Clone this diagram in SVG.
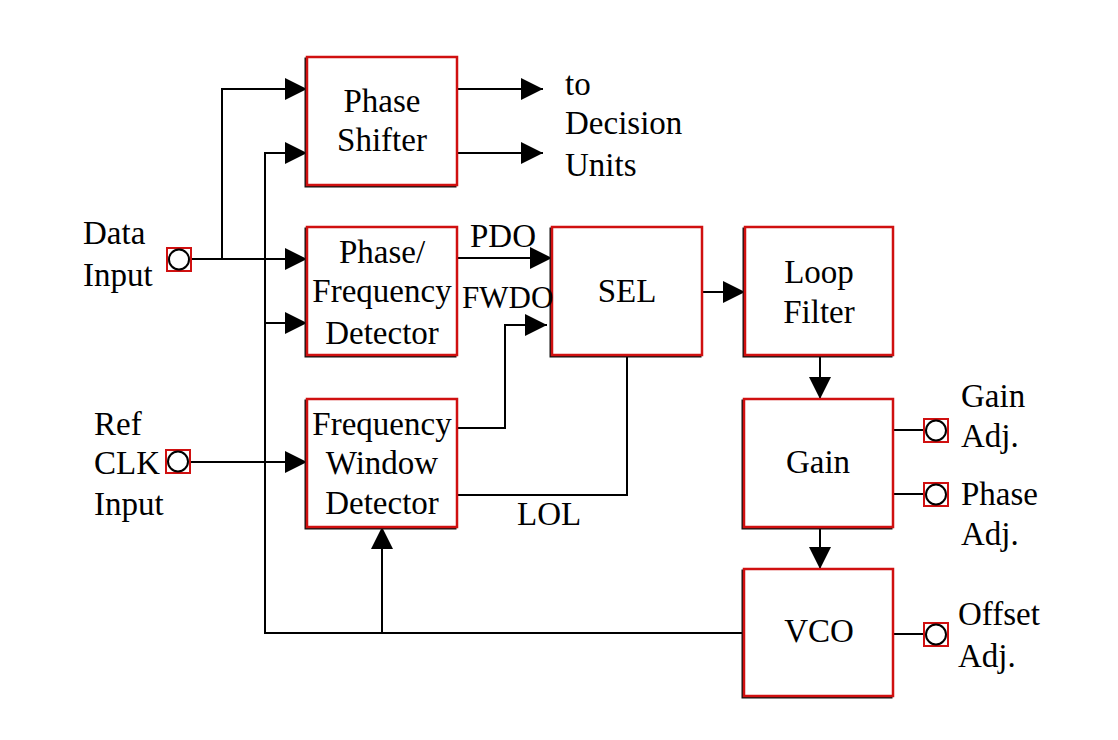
<svg xmlns="http://www.w3.org/2000/svg" width="1118" height="740" viewBox="0 0 1118 740">
<defs>
<style>
.sh{fill:none;stroke:#111;stroke-width:2}
.bx{fill:#fff;stroke:#d01010;stroke-width:2.5}
.t{font-family:"Liberation Serif","Times New Roman",serif;font-size:33px;fill:#000}
.c{text-anchor:middle}
.ln{fill:none;stroke:#000;stroke-width:2}
.pq{fill:#fff;stroke:#d01010;stroke-width:2}
.pc{fill:none;stroke:#000;stroke-width:2}
</style>
<marker id="ar" markerUnits="userSpaceOnUse" markerWidth="22" markerHeight="22" refX="22" refY="11" orient="auto">
<path d="M0,0 L22,11 L0,22 z" fill="#000"/>
</marker>
</defs>
<rect width="1118" height="740" fill="#fff"/>
<g id="connectors" class="ln">
<path d="M191,259 H307" marker-end="url(#ar)"/>
<path d="M222,259 V89 H307" marker-end="url(#ar)"/>
<path d="M744,633 H265 V153 H307" marker-end="url(#ar)"/>
<path d="M265,323 H307" marker-end="url(#ar)"/>
<path d="M382,633 V527" marker-end="url(#ar)"/>
<path d="M190,462 H307" marker-end="url(#ar)"/>
<path d="M457,89 H543" marker-end="url(#ar)"/>
<path d="M457,153 H543" marker-end="url(#ar)"/>
<path d="M457,258 H552" marker-end="url(#ar)"/>
<path d="M457,428 H505 V325 H547" marker-end="url(#ar)"/>
<path d="M457,495 H627 V355"/>
<path d="M702,292 H745" marker-end="url(#ar)"/>
<path d="M820,355 V399" marker-end="url(#ar)"/>
<path d="M820,527 V569" marker-end="url(#ar)"/>
<path d="M893,430 H924"/>
<path d="M893,494 H924"/>
<path d="M893,634 H924"/>
</g>
<g id="phase-shifter">
<rect class="sh" x="305.5" y="58.5" width="150" height="128"/>
<rect class="bx" x="307" y="57" width="150" height="128"/>
<text class="t c" x="382" y="112">Phase</text>
<text class="t c" x="382" y="151">Shifter</text>
</g>
<g id="pfd">
<rect class="sh" x="305.5" y="228.5" width="150" height="128"/>
<rect class="bx" x="307" y="227" width="150" height="128"/>
<text class="t c" x="382" y="263">Phase/</text>
<text class="t c" x="382" y="302">Frequency</text>
<text class="t c" x="382" y="344">Detector</text>
</g>
<g id="fwd">
<rect class="sh" x="305.5" y="400.5" width="150" height="128"/>
<rect class="bx" x="307" y="399" width="150" height="128"/>
<text class="t c" x="382" y="435">Frequency</text>
<text class="t c" x="382" y="474">Window</text>
<text class="t c" x="382" y="514">Detector</text>
</g>
<g id="sel">
<rect class="sh" x="550.5" y="228.5" width="150" height="128"/>
<rect class="bx" x="552" y="227" width="150" height="128"/>
<text class="t c" x="627" y="302">SEL</text>
</g>
<g id="loop-filter">
<rect class="sh" x="743.5" y="228.5" width="148" height="128"/>
<rect class="bx" x="745" y="227" width="148" height="128"/>
<text class="t c" x="819" y="283">Loop</text>
<text class="t c" x="819" y="323">Filter</text>
</g>
<g id="gain">
<rect class="sh" x="742.5" y="400.5" width="149" height="128"/>
<rect class="bx" x="744" y="399" width="149" height="128"/>
<text class="t c" x="818" y="473">Gain</text>
</g>
<g id="vco">
<rect class="sh" x="742.5" y="570.5" width="149" height="127"/>
<rect class="bx" x="744" y="569" width="149" height="127"/>
<text class="t c" x="819" y="642">VCO</text>
</g>
<g id="data-input">
<rect class="pq" x="167" y="248" width="24" height="23"/>
<circle class="pc" cx="179" cy="259.5" r="10"/>
<text class="t" x="83" y="244">Data</text>
<text class="t" x="83" y="286">Input</text>
</g>
<g id="ref-clk-input">
<rect class="pq" x="166" y="450" width="24" height="23"/>
<circle class="pc" cx="178" cy="461.5" r="10"/>
<text class="t" x="94" y="435">Ref</text>
<text class="t" x="94" y="474">CLK</text>
<text class="t" x="94" y="515">Input</text>
</g>
<g id="gain-adj">
<rect class="pq" x="924" y="419" width="24" height="23"/>
<circle class="pc" cx="936" cy="430.5" r="10"/>
<text class="t" x="961" y="407">Gain</text>
<text class="t" x="961" y="447">Adj.</text>
</g>
<g id="phase-adj">
<rect class="pq" x="924" y="483" width="24" height="23"/>
<circle class="pc" cx="936" cy="494.5" r="10"/>
<text class="t" x="961" y="505">Phase</text>
<text class="t" x="961" y="545">Adj.</text>
</g>
<g id="offset-adj">
<rect class="pq" x="924" y="623" width="24" height="23"/>
<circle class="pc" cx="936" cy="634.5" r="10"/>
<text class="t" x="958" y="625">Offset</text>
<text class="t" x="958" y="667">Adj.</text>
</g>
<g id="labels">
<text class="t" x="565" y="95">to</text>
<text class="t" x="565" y="134">Decision</text>
<text class="t" x="565" y="176">Units</text>
<text class="t" x="470" y="247">PDO</text>
<text class="t" x="462" y="308" style="font-size:31px">FWDO</text>
<text class="t" x="517" y="525">LOL</text>
</g>
</svg>
